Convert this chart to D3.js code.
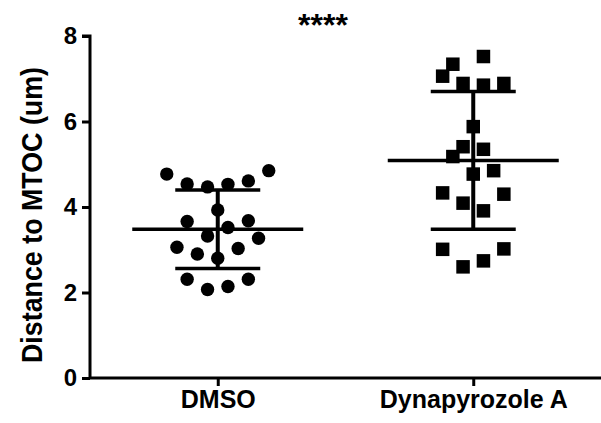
<!DOCTYPE html>
<html>
<head>
<meta charset="utf-8">
<script src="https://cdn.jsdelivr.net/npm/d3@7"></script>
<style>
    body { margin: 0; background: #fff; }
    svg { display: block; font-family: "Liberation Sans", Arial, sans-serif; font-weight: bold; }
</style>
</head>
<body>
<svg></svg>
<script>
var categories = ["DMSO", "Dynapyrozole A"];

// values; slot = column of the scatter spread
var dmsoValues = [4.77, 4.85, 4.54, 4.47, 4.53, 4.61, 3.93, 3.66, 3.68, 3.52,
                  3.32, 3.27, 3.06, 2.90, 3.03, 2.80, 2.31, 2.07, 2.14, 2.31];
var dmsoSlots = [-5, 5, -3, -1, 1, 3, 0, -3, 3, 1,
                 -1, 4, -4, -2, 2, 0, -3, -1, 1, 3];

var dynaValues = [7.34, 7.52, 7.06, 6.89, 6.85, 6.89, 5.88, 5.41, 5.35, 5.18,
                  4.77, 4.85, 4.33, 4.30, 4.09, 3.91, 3.01, 3.02, 2.60, 2.74];
var dynaSlots = [-2, 1, -3, -1, 1, 3, 0, -1, 1, -2,
                 0, 2, -3, 3, -1, 1, -3, 3, -1, 1];

var means = [3.48, 5.09];
var sds = [0.92, 1.61];

var yTicks = [0, 2, 4, 6, 8];
var yTitle = "Distance to MTOC (um)";
var significance = "****";

var screen = { width: 601, height: 423 };
var margins = { left: 90, right: 0, top: 36, bottom: 45 };
var graph = {
    width: screen.width - margins.left - margins.right,
    height: screen.height - margins.top - margins.bottom
};

var svg = d3.select("svg")
    .attr("width", screen.width)
    .attr("height", screen.height);

var xScale = d3.scalePoint()
    .domain(categories)
    .range([0, graph.width])
    .padding(0.5);

var yScale = d3.scaleLinear()
    .domain([0, 8])
    .range([graph.height, 0]);

// spread of points within a column
var slotScale = d3.scaleLinear()
    .domain([-5, 5])
    .range([-51, 51]);

var makeTranslateString = function (x, y) {
    return "translate(" + x + "," + y + ")";
};

var target = svg.append("g")
    .attr("transform", makeTranslateString(margins.left, margins.top));

var points = [];
dmsoValues.forEach(function (v, i) {
    points.push({ cat: categories[0], value: v, slot: dmsoSlots[i] });
});
dynaValues.forEach(function (v, i) {
    points.push({ cat: categories[1], value: v, slot: dynaSlots[i] });
});

// axes
var yAxis = d3.axisLeft(yScale)
    .tickValues(yTicks)
    .tickSize(8)
    .tickPadding(5)
    .tickFormat(d3.format("d"));

var xAxis = d3.axisBottom(xScale)
    .tickSize(8)
    .tickPadding(4);

var yG = target.append("g").call(yAxis);
var xG = target.append("g")
    .attr("transform", makeTranslateString(0, graph.height))
    .call(xAxis);

[yG, xG].forEach(function (g) {
    g.select(".domain").attr("stroke", "#000").attr("stroke-width", 3);
    g.selectAll(".tick line").attr("stroke", "#000").attr("stroke-width", 3);
    g.selectAll(".tick text")
        .attr("fill", "#000")
        .style("font-size", "24px")
        .style("font-weight", "bold")
        .style("font-family", "'Liberation Sans', Arial, sans-serif");
});
xG.selectAll(".tick text").style("font-size", "25px");
yG.select(".domain").attr("d", "M0," + graph.height + "V0H-8");
xG.select(".domain").attr("d", "M0,0H" + graph.width);

// points
var dots = target.append("g");
dots.selectAll("circle")
    .data(points.filter(function (p) { return p.cat === categories[0]; }))
    .enter()
    .append("circle")
    .attr("cx", function (p) { return xScale(p.cat) + slotScale(p.slot); })
    .attr("cy", function (p) { return yScale(p.value); })
    .attr("r", 6.7)
    .attr("fill", "#000");

var sq = 13.5;
dots.selectAll("rect")
    .data(points.filter(function (p) { return p.cat === categories[1]; }))
    .enter()
    .append("rect")
    .attr("x", function (p) { return xScale(p.cat) + slotScale(p.slot) - sq / 2; })
    .attr("y", function (p) { return yScale(p.value) - sq / 2; })
    .attr("width", sq)
    .attr("height", sq)
    .attr("fill", "#000");

// mean and SD
var bars = target.append("g")
    .attr("stroke", "#000")
    .attr("fill", "none");

categories.forEach(function (cat, i) {
    var cx = xScale(cat);
    var top = yScale(means[i] + sds[i]);
    var bottom = yScale(means[i] - sds[i]);
    bars.append("line")
        .attr("x1", cx).attr("x2", cx)
        .attr("y1", top).attr("y2", bottom)
        .attr("stroke-width", 4);
    [top, bottom].forEach(function (y) {
        bars.append("line")
            .attr("x1", cx - 42.5).attr("x2", cx + 42.5)
            .attr("y1", y).attr("y2", y)
            .attr("stroke-width", 3.5);
    });
    bars.append("line")
        .attr("x1", cx - 85.5).attr("x2", cx + 85.5)
        .attr("y1", yScale(means[i])).attr("y2", yScale(means[i]))
        .attr("stroke-width", 3.5);
});

// labels
svg.append("text")
    .text(significance)
    .attr("text-anchor", "middle")
    .attr("x", 323)
    .attr("y", 36)
    .style("font-size", "32px");

svg.append("g")
    .attr("transform", makeTranslateString(42, 215))
    .append("text")
    .text(yTitle)
    .attr("text-anchor", "middle")
    .attr("transform", "rotate(-90)")
    .attr("textLength", 296)
    .attr("lengthAdjust", "spacingAndGlyphs")
    .style("font-size", "30px");
</script>
</body>
</html>
